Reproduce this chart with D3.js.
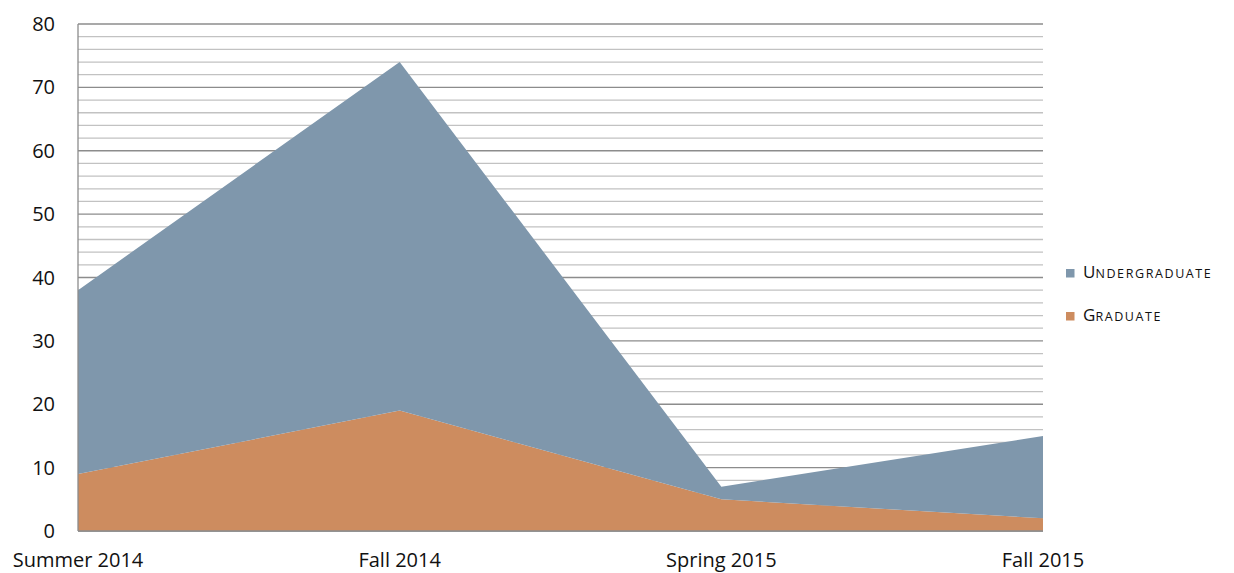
<!DOCTYPE html>
<html><head><meta charset="utf-8">
<script src="https://cdn.jsdelivr.net/npm/d3@7/dist/d3.min.js"></script>
<style>body{margin:0;background:#fff}svg{display:block}text{font-family:"Open Sans","Lato",sans-serif;fill:#111}</style>
</head><body><svg id="c" width="1234" height="573"></svg>
<script>
const categories = ["Summer 2014","Fall 2014","Spring 2015","Fall 2015"];
const graduate = [9, 19, 5, 2];
const undergraduate = [29, 55, 2, 13];
const seriesNames = ["Undergraduate","Graduate"];
const yTicks = [0,10,20,30,40,50,60,70,80];
const colors = {Undergraduate:"#7f97ac", Graduate:"#cd8c5f"};

const svg = d3.select("#c");
const m = {l:78, r:1043, t:24, b:531};
const x = d3.scalePoint().domain(categories).range([m.l, m.r]);
const y = d3.scaleLinear().domain([0,80]).range([m.b, m.t]);

// gridlines
const minor = d3.range(0, 81, 2);
svg.append("g").selectAll("line").data(minor).join("line")
  .attr("x1", m.l).attr("x2", m.r)
  .attr("y1", d=>y(d)).attr("y2", d=>y(d))
  .attr("stroke", d=> d%10===0 ? "#8c8c8c" : "#c2c2c2")
  .attr("stroke-width", 1.3);

const rows = categories.map((c,i)=>({cat:c, Graduate:graduate[i], Undergraduate:undergraduate[i]}));
const stack = d3.stack().keys(["Graduate","Undergraduate"]);
const layers = stack(rows);
const area = d3.area().x(d=>x(d.data.cat)).y0(d=>y(d[0])).y1(d=>y(d[1]));
svg.append("g").selectAll("path").data(layers).join("path")
  .attr("d", area).attr("fill", d=>colors[d.key]);

// axes lines
svg.append("line").attr("x1",m.l).attr("x2",m.l).attr("y1",m.t).attr("y2",m.b).attr("stroke","#8c8c8c").attr("stroke-width",1.3);
svg.append("line").attr("x1",m.l).attr("x2",m.r).attr("y1",m.b).attr("y2",m.b).attr("stroke","#8c8c8c").attr("stroke-width",1.3);

// y labels
svg.append("g").selectAll("text").data(yTicks).join("text")
  .attr("x", 55).attr("y", d=>y(d)+7).attr("text-anchor","end")
  .attr("font-size", 20).text(d=>d);

// x labels
svg.append("g").selectAll("text").data(categories).join("text")
  .attr("x", d=>x(d)).attr("y", 567).attr("text-anchor","middle")
  .attr("font-size", 20).text(d=>d);

// legend
const leg = svg.append("g");
seriesNames.forEach((n,i)=>{
  const yy = 278 + i*43;
  leg.append("rect").attr("x",1066).attr("y",yy-9).attr("width",8.5).attr("height",8.5).attr("fill",colors[n]);
  const t = leg.append("text").attr("x",1083).attr("y",yy).attr("font-size",17);
  t.append("tspan").text(n[0].toUpperCase());
  t.append("tspan").attr("font-size",12.5).attr("letter-spacing",1.6).text(n.slice(1).toUpperCase());
});
</script></body></html>
